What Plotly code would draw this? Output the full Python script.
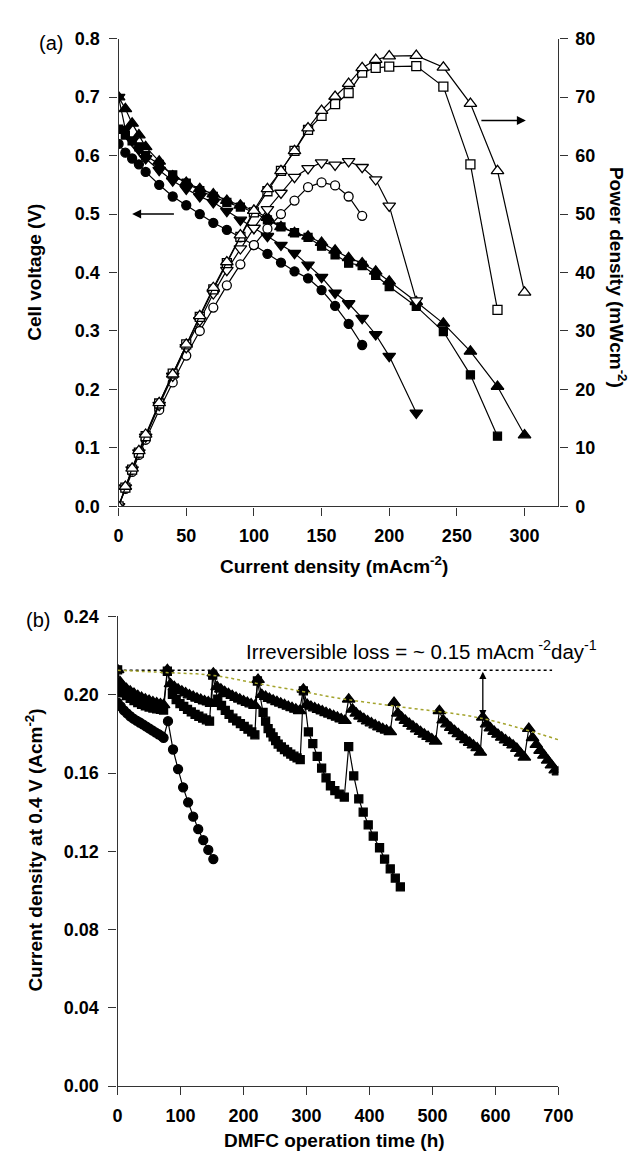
import plotly.graph_objects as go

# ---- panel (a): polarization curves ----
current = [0, 5, 10, 15, 20, 30, 40, 50, 60, 70, 80, 90, 100, 110, 120, 130,
           140, 150, 160, 170, 180, 190, 200, 220, 240, 260, 280, 300]

v_circle = [0.62, 0.605, 0.595, 0.585, 0.572, 0.55, 0.53, 0.515, 0.50, 0.485, 0.473,
            0.46, 0.447, 0.432, 0.417, 0.402, 0.39, 0.37, 0.343, 0.312, 0.276]
p_circle = [0, 3.0, 5.9, 8.8, 11.4, 16.5, 21.2, 25.8, 30.0, 34.0, 37.8,
            41.4, 44.7, 47.5, 50.0, 52.3, 54.6, 55.4, 54.9, 53.0, 49.7]

v_down = [0.70, 0.645, 0.625, 0.61, 0.595, 0.575, 0.557, 0.543, 0.53, 0.52, 0.505, 0.49,
          0.476, 0.462, 0.447, 0.433, 0.413, 0.392, 0.365, 0.347, 0.322, 0.294, 0.257, 0.16]
p_down = [0, 3.2, 6.3, 9.2, 11.9, 17.3, 22.3, 27.2, 31.8, 36.4, 40.4, 44.1,
          47.6, 50.8, 53.6, 56.3, 57.8, 58.8, 58.4, 59.0, 58.0, 55.9, 51.4, 35.2]

v_square = [0.645, 0.635, 0.625, 0.615, 0.60, 0.585, 0.567, 0.553, 0.54, 0.53, 0.52, 0.512,
            0.503, 0.49, 0.478, 0.468, 0.46, 0.445, 0.43, 0.416, 0.412, 0.395, 0.376,
            0.342, 0.299, 0.225, 0.12]
p_square = [0, 3.2, 6.3, 9.2, 12.0, 17.6, 22.7, 27.7, 32.4, 37.1, 41.6, 46.1,
            50.3, 53.9, 57.4, 60.8, 64.4, 66.8, 68.8, 70.7, 74.2, 75.0, 75.2,
            75.3, 71.8, 58.5, 33.6]

v_up = [0.70, 0.68, 0.655, 0.635, 0.615, 0.59, 0.565, 0.554, 0.543, 0.534, 0.523, 0.515,
        0.506, 0.494, 0.478, 0.468, 0.462, 0.451, 0.438, 0.425, 0.416, 0.402, 0.385,
        0.35, 0.313, 0.265, 0.205, 0.122]
p_up = [0, 3.4, 6.5, 9.5, 12.3, 17.7, 22.6, 27.7, 32.6, 37.4, 41.8, 46.4,
        50.6, 54.3, 57.4, 60.8, 64.7, 67.7, 70.1, 72.3, 75.0, 76.4, 77.0,
        77.1, 75.1, 68.9, 57.4, 36.6]

# ---- panel (b): durability at 0.4 V ----
ci_t = [0, 5, 10, 15, 20, 25, 30, 35, 40, 45, 50, 55, 60, 65, 70, 73,
        80, 88, 96, 104, 112, 120, 128, 136, 144, 152]
ci_y = [0.196, 0.194, 0.192, 0.1905, 0.189, 0.1878, 0.1868, 0.1858, 0.1848, 0.1838,
        0.1828, 0.1818, 0.1808, 0.1798, 0.1788, 0.1780,
        0.1865, 0.1720, 0.1620, 0.1527, 0.1450, 0.1377, 0.1313, 0.1257, 0.1207, 0.1160]

sq_t = [0, 4, 8, 14, 20, 26, 32, 38, 44, 50, 56, 62, 68, 73,
        79,
        87, 93, 99, 105, 111, 117, 123, 129, 135, 141, 146,
        151,
        159, 165, 171, 177, 183, 189, 195, 201, 207, 213, 218,
        222,
        231, 235, 239, 243, 247, 251, 255, 260, 265, 270, 275, 280, 285, 290,
        295,
        303, 310, 317, 324, 331, 338, 345, 352, 360,
        367,
        375, 383, 390, 398, 406, 416, 424, 433, 441, 449]
sq_y = [0.2127, 0.2040, 0.2010, 0.1995, 0.1982, 0.1970, 0.1960, 0.1951, 0.1943, 0.1937,
        0.1932, 0.1928, 0.1925, 0.1922,
        0.2120,
        0.2002, 0.1975, 0.1955, 0.1940, 0.1925, 0.1912, 0.1900, 0.1890, 0.1880, 0.1872, 0.1865,
        0.2100,
        0.1977, 0.1945, 0.1920, 0.1900, 0.1880, 0.1866, 0.1852, 0.1838, 0.1824, 0.1810, 0.1795,
        0.2070,
        0.1910, 0.1865, 0.1827, 0.1805, 0.1785, 0.1765, 0.1748, 0.1733, 0.1720, 0.1708,
        0.1697, 0.1686, 0.1677, 0.1668,
        0.2020,
        0.1810, 0.1750, 0.1685, 0.1625, 0.1575, 0.1535, 0.1510, 0.1492, 0.1477,
        0.1735,
        0.1585, 0.1468, 0.1400, 0.1335, 0.1277, 0.1218, 0.1160, 0.1110, 0.1063, 0.1018]

tri_t = [0, 4, 8, 14, 20, 26, 32, 38, 44, 50, 56, 62, 68, 73,
         79,
         84, 90, 96, 102, 108, 114, 120, 126, 132, 138, 144, 149,
         152,
         158, 164, 170, 176, 182, 188, 194, 200, 206, 212, 218,
         223,
         229, 235, 241, 247, 253, 259, 265, 271, 277, 283, 289,
         295,
         301, 307, 313, 319, 325, 331, 337, 343, 349, 355, 361,
         367,
         373, 379, 385, 391, 397, 403, 409, 415, 421, 427, 433,
         439,
         445, 451, 457, 463, 469, 475, 481, 487, 493, 499, 505,
         511,
         517, 523, 529, 535, 541, 547, 553, 559, 565, 571, 576,
         580,
         586, 592, 598, 604, 610, 616, 622, 628, 634, 640, 646,
         653,
         659, 665, 671, 677, 683, 689, 695, 700]
tri_y = [0.2127, 0.2065, 0.2045, 0.2030, 0.2018, 0.2006, 0.1995, 0.1985, 0.1977, 0.1970,
         0.1963, 0.1957, 0.1952, 0.1948,
         0.2127,
         0.2055, 0.2040, 0.2028, 0.2018, 0.2008, 0.1998, 0.1990, 0.1982, 0.1975, 0.1968,
         0.1962, 0.1955,
         0.2110,
         0.2040, 0.2028, 0.2015, 0.2005, 0.1995, 0.1985, 0.1977, 0.1968, 0.1960, 0.1952, 0.1945,
         0.2077,
         0.2000, 0.1990, 0.1980, 0.1972, 0.1964, 0.1956, 0.1948, 0.1940, 0.1933, 0.1925, 0.1918,
         0.2027,
         0.1950, 0.1940, 0.1932, 0.1924, 0.1916, 0.1908, 0.1900, 0.1892, 0.1884, 0.1876, 0.1868,
         0.1977,
         0.1925, 0.1905, 0.1890, 0.1877, 0.1865, 0.1855, 0.1845, 0.1835, 0.1826, 0.1818, 0.1810,
         0.1960,
         0.1905, 0.1885, 0.1868, 0.1852, 0.1838, 0.1824, 0.1811, 0.1798, 0.1786, 0.1774, 0.1762,
         0.1918,
         0.1870, 0.1850, 0.1832, 0.1816, 0.1800, 0.1785, 0.1770, 0.1756, 0.1742, 0.1728, 0.1705,
         0.1885,
         0.1850, 0.1830, 0.1812, 0.1797, 0.1782, 0.1768, 0.1755, 0.1742, 0.1725, 0.1700, 0.1680,
         0.1827,
         0.1780, 0.1745, 0.1715, 0.1690, 0.1665, 0.1640, 0.1615, 0.1605]

# initial level (black dotted) and trend of the recovered peaks (olive dotted)
ref_t = [0, 690]
ref_y = [0.2125, 0.2125]
fit_t = [0, 77, 149, 221, 293, 349, 444, 577, 700]
fit_y = [0.2125, 0.2113, 0.2100, 0.2058, 0.2017, 0.1983, 0.1940, 0.1880, 0.1770]

FONT = "Liberation Sans, Arial, sans-serif"
AX = "#333333"

fig = go.Figure()


def add(x, y, symbol, size, fill, xa, ya):
    fig.add_trace(go.Scatter(
        x=x, y=y, mode="lines+markers", xaxis=xa, yaxis=ya,
        line=dict(color="black", width=1.2),
        marker=dict(symbol=symbol, size=size, color=fill,
                    line=dict(color="black", width=1.3)),
        showlegend=False, hoverinfo="x+y"))


# voltage (filled) on left axis
add(current[:len(v_circle)], v_circle, "circle", 9, "black", "x", "y")
add(current[:len(v_down)], v_down, "triangle-down", 11, "black", "x", "y")
add(current[:len(v_square)], v_square, "square", 8, "black", "x", "y")
add(current[:len(v_up)], v_up, "triangle-up", 11, "black", "x", "y")
# power density (open) on right axis
add(current[:len(p_circle)], p_circle, "circle", 9, "white", "x", "y2")
add(current[:len(p_down)], p_down, "triangle-down", 11, "white", "x", "y2")
add(current[:len(p_square)], p_square, "square", 9, "white", "x", "y2")
add(current[:len(p_up)], p_up, "triangle-up", 11, "white", "x", "y2")

add(ci_t, ci_y, "circle", 9, "black", "x2", "y3")
add(sq_t, sq_y, "square", 8, "black", "x2", "y3")
add(tri_t, tri_y, "triangle-up", 11, "black", "x2", "y3")

fig.add_trace(go.Scatter(x=ref_t, y=ref_y, mode="lines", xaxis="x2", yaxis="y3",
                         line=dict(color="black", width=1.3, dash="dot"),
                         showlegend=False, hoverinfo="skip"))
fig.add_trace(go.Scatter(x=fit_t, y=fit_y, mode="lines", xaxis="x2", yaxis="y3",
                         line=dict(color="#a3a32c", width=1.5, dash="dot", shape="spline"),
                         showlegend=False, hoverinfo="skip"))

tickfont = dict(family=FONT, size=18, color="black", weight="bold")
common = dict(showline=True, linecolor=AX, linewidth=1.3, ticks="outside",
              ticklen=8, tickwidth=1.3, tickcolor=AX, showgrid=False,
              zeroline=False, tickfont=tickfont)

W, H = 639, 1153
fig.update_layout(
    width=W, height=H,
    margin=dict(l=0, r=0, t=0, b=0),
    paper_bgcolor="white", plot_bgcolor="white",
    xaxis=dict(domain=[109 / W, 563 / W], range=[0, 325], anchor="y",
               tickvals=[0, 50, 100, 150, 200, 250, 300], ticklabelstandoff=5, **common),
    yaxis=dict(domain=[1 - 497 / H, 1 - 21 / H], range=[0, 0.8], anchor="x",
               tickvals=[0, 0.1, 0.2, 0.3, 0.4, 0.5, 0.6, 0.7, 0.8], tickformat=".1f",
               ticklabelstandoff=6, **common),
    yaxis2=dict(overlaying="y", side="right", range=[0, 80], anchor="x",
                tickvals=[0, 10, 20, 30, 40, 50, 60, 70, 80], ticklabelstandoff=4, **common),
    xaxis2=dict(domain=[108 / W, 563 / W], range=[0, 700], anchor="y3",
                tickvals=[0, 100, 200, 300, 400, 500, 600, 700], ticklabelstandoff=5, **common),
    yaxis3=dict(domain=[1 - 1087 / H, 1 - 609 / H], range=[0, 0.24], anchor="x2",
                tickvals=[0, 0.04, 0.08, 0.12, 0.16, 0.20, 0.24], tickformat=".2f",
                ticklabelstandoff=6, **common),
)

title_font = dict(family=FONT, size=19, color="black", weight="bold")
ann = [
    dict(text="(a)", x=39 / W, y=1 - 25 / H, font=dict(family=FONT, size=20, color="black")),
    dict(text="(b)", x=26 / W, y=1 - 613 / H, font=dict(family=FONT, size=20, color="black")),
    dict(text="Current density (mAcm<sup>-2</sup>)", x=331 / W, y=1 - 557 / H, font=title_font),
    dict(text="DMFC operation time (h)", x=332 / W, y=1 - 1142 / H, font=title_font),
    dict(text="Cell voltage (V)", x=22 / W, y=1 - 259 / H, textangle=-90, font=title_font),
    dict(text="Power density (mWcm<sup>-2</sup>)", x=624 / W, y=1 - 264 / H, textangle=90,
         font=title_font),
    dict(text="Current density at 0.4 V (Acm<sup>-2</sup>)", x=22 / W, y=1 - 847 / H,
         textangle=-90, font=title_font),
    dict(text="Irreversible loss = ~ 0.15 mAcm<sup> -2</sup>day<sup>-1</sup>", x=238 / W,
         y=1 - 643 / H, xanchor="left", font=dict(family=FONT, size=20.5, color="black")),
]
for a in ann:
    a.setdefault("xanchor", "center")
    fig.add_annotation(xref="paper", yref="paper", showarrow=False, yanchor="middle", **a)

# arrows pointing to the matching axes, and the recoverable loss marker
fig.add_annotation(x=10, y=0.5, ax=42, ay=0.5, xref="x", yref="y", axref="x", ayref="y",
                   showarrow=True, arrowhead=2, arrowsize=1.2, arrowwidth=1.5,
                   arrowcolor="black", text="")
fig.add_annotation(x=301, y=66, ax=267, ay=66, xref="x", yref="y2", axref="x", ayref="y2",
                   showarrow=True, arrowhead=2, arrowsize=1.2, arrowwidth=1.5,
                   arrowcolor="black", text="")
fig.add_annotation(x=580, y=0.1885, ax=580, ay=0.2125, xref="x2", yref="y3",
                   axref="x2", ayref="y3", showarrow=True, arrowhead=2, startarrowhead=2,
                   arrowside="end+start", arrowsize=1.1, arrowwidth=1.3,
                   arrowcolor="black", text="")

fig.write_html("out.html")
